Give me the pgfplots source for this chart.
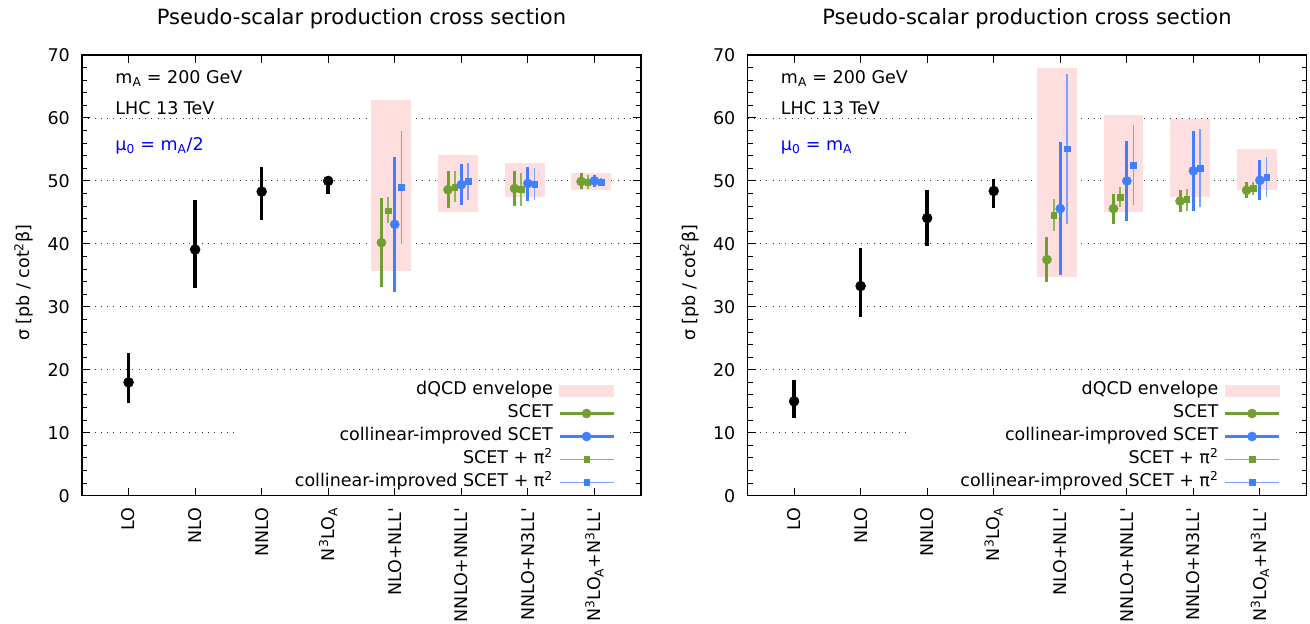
\documentclass[border=0pt]{standalone}
\usepackage{fontspec}
\setmainfont{DejaVu Sans}
\usepackage{pgfplots}
\usepackage{pgfplotstable}
\pgfplotsset{compat=1.18}
\definecolor{scetgreen}{RGB}{112,160,48}
\definecolor{scetblue}{RGB}{64,128,255}
\definecolor{lgreen}{RGB}{140,185,85}
\definecolor{lblue}{RGB}{120,160,255}
\definecolor{envpink}{RGB}{255,222,223}
\newcommand{\fs}{\fontsize{17.5}{21}\selectfont}

% ---------- left: mu0 = mA/2 ----------
\pgfplotstableread{
x y lo hi
1 18.0 14.7 22.6
2 39.1 33.0 46.9
3 48.3 43.8 52.2
4 50.0 48.0 50.5
}\LfixTab
\pgfplotstableread{
x y lo hi
5 40.2 33.2 47.3
6 48.6 45.7 51.6
7 48.8 46.0 51.6
8 49.9 48.7 51.2
}\LscetTab
\pgfplotstableread{
x y lo hi
5 45.3 43.3 47.5
6 49.0 46.6 51.6
7 48.7 46.0 51.3
8 49.8 48.7 51.0
}\LscetpiTab
\pgfplotstableread{
x y lo hi
5 43.1 32.4 53.8
6 49.4 46.1 52.7
7 49.6 46.8 52.2
8 50.0 49.0 50.9
}\LcolTab
\pgfplotstableread{
x y lo hi
5 49.0 40.0 57.9
6 50.0 47.0 52.9
7 49.5 46.9 52.0
8 49.8 49.3 50.4
}\LcolpiTab

% ---------- right: mu0 = mA ----------
\pgfplotstableread{
x y lo hi
1 15.0 12.3 18.4
2 33.3 28.4 39.3
3 44.1 39.7 48.6
4 48.4 45.7 50.3
}\RfixTab
\pgfplotstableread{
x y lo hi
5 37.5 33.9 41.1
6 45.6 43.2 47.9
7 46.8 45.0 48.6
8 48.5 47.3 49.8
}\RscetTab
\pgfplotstableread{
x y lo hi
5 44.6 42.0 47.1
6 47.4 45.8 49.0
7 47.1 45.3 48.7
8 48.8 47.7 49.9
}\RscetpiTab
\pgfplotstableread{
x y lo hi
5 45.6 35.1 56.2
6 50.0 43.7 56.3
7 51.6 45.3 57.9
8 50.1 46.9 53.4
}\RcolTab
\pgfplotstableread{
x y lo hi
5 55.1 43.1 67.0
6 52.5 46.1 58.9
7 52.0 45.8 58.3
8 50.6 47.4 53.8
}\RcolpiTab

\newcommand{\eplot}[3]{\addplot[forget plot,#1] table[x expr=\thisrow{x}+(#2), y=y, y error plus expr=\thisrow{hi}-\thisrow{y}, y error minus expr=\thisrow{y}-\thisrow{lo}] {#3};}

\pgfplotsset{
  myaxis/.style={
    scale only axis, width=559pt, height=440.7pt, anchor=south west,
    xmin=0.3, xmax=8.7, ymin=0, ymax=70,
    xtick={1,...,8},
    xticklabels={LO, NLO, NNLO, N\textsuperscript{3}LO\textsubscript{A}, NLO+NLL\textquotesingle, NNLO+NNLL\textquotesingle, NNLO+N3LL\textquotesingle, N\textsuperscript{3}LO\textsubscript{A}+N\textsuperscript{3}LL\textquotesingle},
    ytick={0,10,...,70}, minor y tick num=4,
    ymajorgrids,
    grid style={black!80, line width=0.9pt, dash pattern=on 1pt off 5.3pt},
    major tick length=8pt, minor tick length=5pt,
    tick style={black, line width=1pt},
    axis line style={black, line width=1.2pt},
    tick label style={font=\fs},
    /pgf/number format/assume math mode=true,
    xticklabel style={yshift=-12pt, rotate=90, anchor=east, inner sep=0pt},
    yticklabel style={xshift=-12pt, anchor=east, inner sep=0pt},
    ylabel={σ [pb / cot\textsuperscript{2}β]},
    ylabel style={font=\fs, at={(axis description cs:-0.104,0.483)}, anchor=center},
    title={Pseudo-scalar production cross section},
    title style={font=\fontsize{21}{25}\selectfont, at={(axis description cs:0.5,1)}, anchor=base, yshift=25pt},
    legend cell align=right,
    legend plot pos=right,
    legend style={at={(axis description cs:1,0)}, anchor=south east, xshift=-26pt, yshift=1.5pt,
      draw=none, fill=none, inner sep=0pt, row sep=0pt, font=\fs,
      nodes={inner xsep=5.5pt, inner ysep=2pt, text height=14pt, text depth=5pt}},
  },
  fixo/.style={only marks, mark=*, mark size=5pt, black, mark options={fill=black, draw=black},
    error bars/.cd, y dir=both, y explicit, error mark=none, error bar style={line width=3.5pt, black}},
  scetc/.style={only marks, mark=*, mark size=4.6pt, scetgreen, mark options={fill=scetgreen, draw=scetgreen},
    error bars/.cd, y dir=both, y explicit, error mark=none, error bar style={line width=3pt, scetgreen}},
  scetpi/.style={only marks, mark=square*, mark size=2.8pt, scetgreen, mark options={fill=scetgreen, draw=scetgreen},
    error bars/.cd, y dir=both, y explicit, error mark=none, error bar style={line width=1.8pt, lgreen}},
  colc/.style={only marks, mark=*, mark size=4.6pt, scetblue, mark options={fill=scetblue, draw=scetblue},
    error bars/.cd, y dir=both, y explicit, error mark=none, error bar style={line width=3pt, scetblue}},
  colpi/.style={only marks, mark=square*, mark size=2.8pt, scetblue, mark options={fill=scetblue, draw=scetblue},
    error bars/.cd, y dir=both, y explicit, error mark=none, error bar style={line width=1.8pt, lblue}},
}

\newcommand{\mylegend}{%
  \addlegendimage{legend image code/.code={\fill[envpink] (0pt,-5.5pt) rectangle (54pt,5.5pt);}}
  \addlegendentry{dQCD envelope}
  \addlegendimage{legend image code/.code={\draw[scetgreen, line width=2.5pt] (0pt,0pt) -- (54pt,0pt); \fill[scetgreen] (27pt,0pt) circle (4.6pt);}}
  \addlegendentry{SCET}
  \addlegendimage{legend image code/.code={\draw[scetblue, line width=2.5pt] (0pt,0pt) -- (54pt,0pt); \fill[scetblue] (27pt,0pt) circle (4.6pt);}}
  \addlegendentry{collinear-improved SCET}
  \addlegendimage{legend image code/.code={\draw[lgreen, line width=1.6pt] (0pt,0pt) -- (54pt,0pt); \fill[scetgreen] (24.2pt,-2.8pt) rectangle (29.8pt,2.8pt);}}
  \addlegendentry{SCET + π\textsuperscript{2}}
  \addlegendimage{legend image code/.code={\draw[lblue, line width=1.6pt] (0pt,0pt) -- (54pt,0pt); \fill[scetblue] (24.2pt,-2.8pt) rectangle (29.8pt,2.8pt);}}
  \addlegendentry{collinear-improved SCET + π\textsuperscript{2}}
}

\begin{document}
\begin{tikzpicture}
\path[use as bounding box] (0,0) rectangle (1310pt,624pt);

\begin{axis}[myaxis, at={(82pt,128.3pt)}]
  \fill[white] (axis cs:2.68,2) rectangle (axis cs:8.5,18.7);
  \addplot[forget plot, fill=envpink, draw=none] coordinates {(4.65,35.7) (5.25,35.7) (5.25,62.9) (4.65,62.9)};
  \addplot[forget plot, fill=envpink, draw=none] coordinates {(5.65,45.1) (6.25,45.1) (6.25,54.1) (5.65,54.1)};
  \addplot[forget plot, fill=envpink, draw=none] coordinates {(6.65,47.5) (7.25,47.5) (7.25,52.9) (6.65,52.9)};
  \addplot[forget plot, fill=envpink, draw=none] coordinates {(7.65,48.6) (8.25,48.6) (8.25,51.3) (7.65,51.3)};
  \eplot{fixo}{0}{\LfixTab}
  \eplot{scetc}{-0.2}{\LscetTab}
  \eplot{scetpi}{-0.1}{\LscetpiTab}
  \eplot{colc}{0}{\LcolTab}
  \eplot{colpi}{0.1}{\LcolpiTab}
  \node[anchor=base west, font=\fs] at (axis cs:0.75,65.4) {m\textsubscript{A} = 200 GeV};
  \node[anchor=base west, font=\fs] at (axis cs:0.75,60.6) {LHC 13 TeV};
  \node[anchor=base west, font=\fs, text=blue] at (axis cs:0.75,54.9) {μ\textsubscript{0} = m\textsubscript{A}/2};
  \mylegend
\end{axis}

\begin{axis}[myaxis, at={(747.5pt,128.3pt)}]
  \fill[white] (axis cs:2.68,2) rectangle (axis cs:8.5,18.7);
  \addplot[forget plot, fill=envpink, draw=none] coordinates {(4.65,34.8) (5.25,34.8) (5.25,67.9) (4.65,67.9)};
  \addplot[forget plot, fill=envpink, draw=none] coordinates {(5.65,45.0) (6.25,45.0) (6.25,60.5) (5.65,60.5)};
  \addplot[forget plot, fill=envpink, draw=none] coordinates {(6.65,47.5) (7.25,47.5) (7.25,59.8) (6.65,59.8)};
  \addplot[forget plot, fill=envpink, draw=none] coordinates {(7.65,48.6) (8.25,48.6) (8.25,55.1) (7.65,55.1)};
  \eplot{fixo}{0}{\RfixTab}
  \eplot{scetc}{-0.2}{\RscetTab}
  \eplot{scetpi}{-0.1}{\RscetpiTab}
  \eplot{colc}{0}{\RcolTab}
  \eplot{colpi}{0.1}{\RcolpiTab}
  \node[anchor=base west, font=\fs] at (axis cs:0.75,65.4) {m\textsubscript{A} = 200 GeV};
  \node[anchor=base west, font=\fs] at (axis cs:0.75,60.6) {LHC 13 TeV};
  \node[anchor=base west, font=\fs, text=blue] at (axis cs:0.75,54.9) {μ\textsubscript{0} = m\textsubscript{A}};
  \mylegend
\end{axis}
\end{tikzpicture}
\end{document}
